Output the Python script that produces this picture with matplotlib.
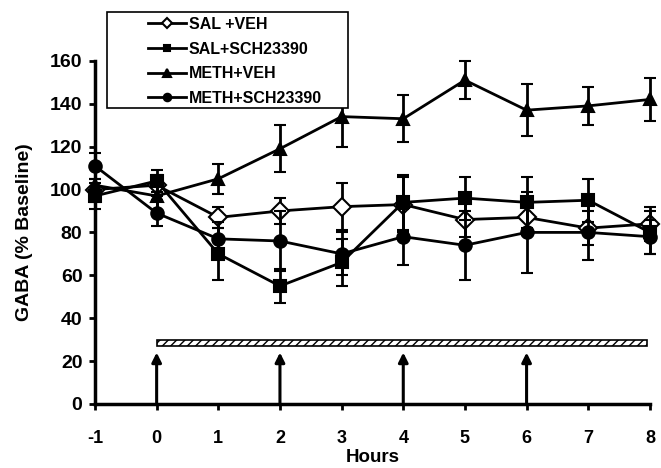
import matplotlib.pyplot as plt
from matplotlib.patches import Rectangle

plt.rcParams['font.family'] = ['Liberation Sans', 'DejaVu Sans']
plt.rcParams['font.weight'] = 'bold'
plt.rcParams['axes.unicode_minus'] = False

hours = [-1, 0, 1, 2, 3, 4, 5, 6, 7, 8]

sal_veh = [100, 102, 87, 90, 92, 93, 86, 87, 82, 84]
sal_veh_err = [5, 5, 5, 6, 11, 13, 8, 8, 8, 8]
sal_sch = [97, 104, 70, 55, 66, 94, 96, 94, 95, 80]
sal_sch_err = [6, 5, 12, 8, 11, 13, 10, 12, 10, 10]
meth_veh = [102, 97, 105, 119, 134, 133, 151, 137, 139, 142]
meth_veh_err = [8, 8, 7, 11, 14, 11, 9, 12, 9, 10]
meth_sch = [111, 89, 77, 76, 70, 78, 74, 80, 80, 78]
meth_sch_err = [6, 6, 8, 14, 10, 13, 16, 19, 13, 8]

labels = ["SAL +VEH", "SAL+SCH23390", "METH+VEH", "METH+SCH23390"]

# traitement (barre hachuree) et injections (fleches)
bar_start, bar_end = 0, 7.95
bar_low, bar_high = 27, 30
injections = [0, 2, 4, 6]
arrow_top = 24

fig = plt.figure(figsize=(6.61, 4.68), dpi=100)
ax = fig.add_axes([0.1437, 0.1368, 0.8395, 0.7332])

series = [
    (sal_sch, sal_sch_err, 's', 'black', 8),
    (meth_veh, meth_veh_err, '^', 'black', 9),
    (meth_sch, meth_sch_err, 'o', 'black', 9),
    (sal_veh, sal_veh_err, 'D', 'white', 9),
]
order = [1, 2, 3, 0]
handles = {}
for (vals, err, mk, fc, ms), idx in zip(series, order):
    eb = ax.errorbar(hours, vals, yerr=err, marker=mk, markersize=ms,
                     markerfacecolor=fc, markeredgecolor='black', markeredgewidth=1.5,
                     color='black', linewidth=2, elinewidth=2, capsize=4, capthick=2,
                     clip_on=False, zorder=3 + idx)
    handles[idx] = eb[0]

ax.barh((bar_low + bar_high) / 2, bar_end - bar_start, left=bar_start,
        height=bar_high - bar_low, facecolor='white', edgecolor='black',
        hatch='////', linewidth=1.2, zorder=2)

for x in injections:
    ax.annotate('', xy=(x, arrow_top), xytext=(x, 0),
                arrowprops=dict(arrowstyle='-|>', color='black', lw=2.2,
                                mutation_scale=14, shrinkA=0, shrinkB=0))

ax.set_xlim(-1, 8)
ax.set_ylim(0, 160)
ax.set_xticks(hours)
ax.set_yticks(range(0, 161, 20))
ax.spines['top'].set_visible(False)
ax.spines['right'].set_visible(False)
ax.spines['left'].set_linewidth(2.5)
ax.spines['bottom'].set_linewidth(2.5)
ax.tick_params(axis='both', direction='out', width=2, length=4)
ax.tick_params(axis='x', pad=15, labelsize=13)
ax.tick_params(axis='y', pad=5, labelsize=14)

ax.set_xlabel("Hours", fontsize=13.5, fontweight='bold', labelpad=1)
ax.set_ylabel("GABA (% Baseline)", fontsize=14, fontweight='bold', labelpad=12)

# cadre de la legende
fig.patches.append(Rectangle((107 / 661, 1 - 108 / 468), 241 / 661, 96 / 468,
                             transform=fig.transFigure, facecolor='white',
                             edgecolor='black', linewidth=1.2, zorder=1))
leg = fig.legend([handles[i] for i in range(4)], labels, loc='upper left',
                 bbox_to_anchor=(148 / 661, 1 - 17 / 468), frameon=False,
                 fontsize=11.5, markerscale=0.6, handlelength=2.4,
                 handletextpad=0.15, labelspacing=0.6, borderpad=0,
                 borderaxespad=0)

fig.savefig("out.png", dpi=100)
